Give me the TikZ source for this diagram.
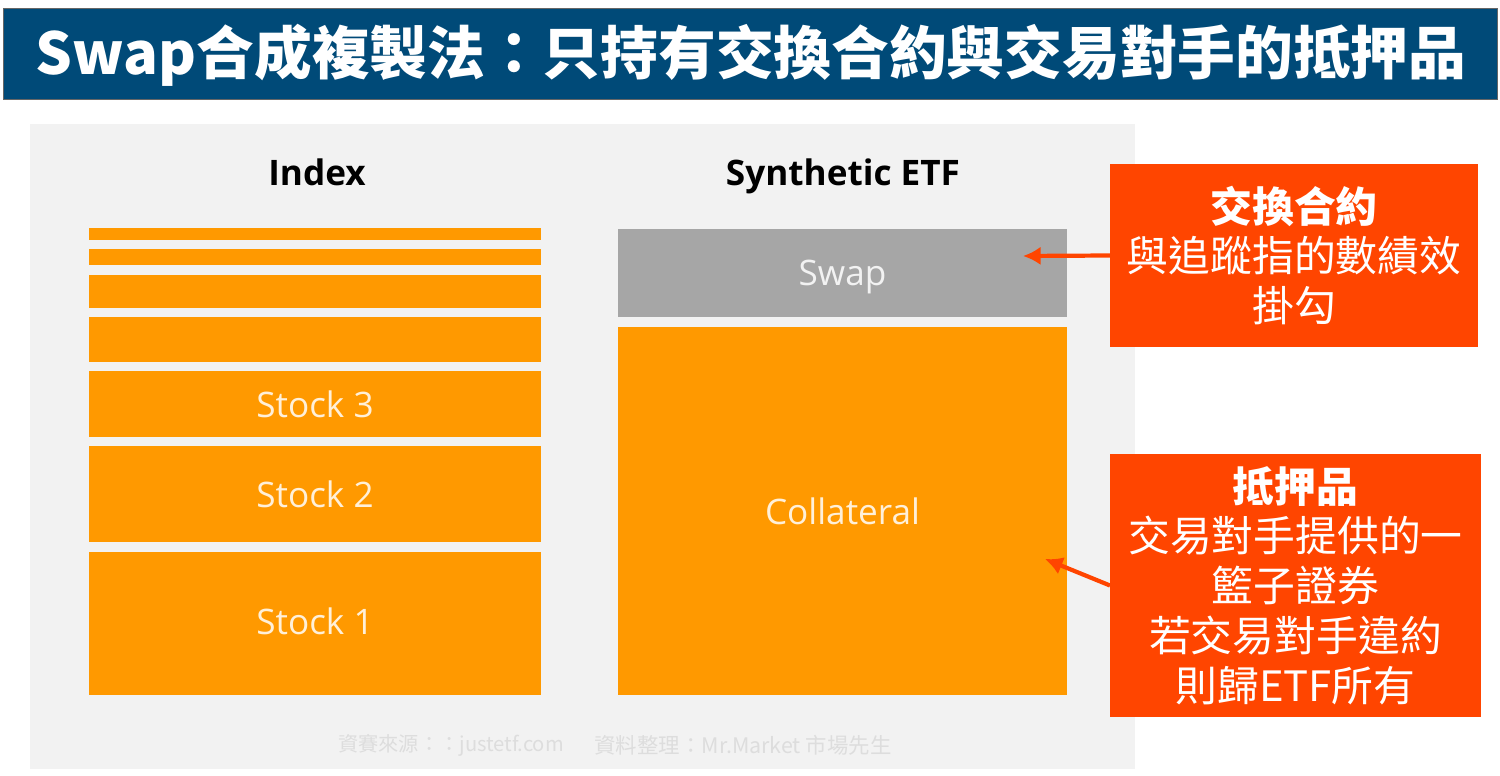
\documentclass[tikz,border=0pt]{standalone}
\usepackage{fontspec}
\setmainfont{Noto Sans CJK TC}
\newfontfamily\latinfont{Open Sans}
\usetikzlibrary{arrows.meta}
\definecolor{titleblue}{HTML}{004A78}
\definecolor{panelgray}{HTML}{F2F2F2}
\definecolor{barorange}{HTML}{FF9900}
\definecolor{swapgray}{HTML}{A6A6A6}
\definecolor{notered}{HTML}{FF4500}
\definecolor{faintgray}{HTML}{DDDDDD}
\def\widecolon{\symbol{"FF1A}}
\def\pxbox[#1](#2)(#3:#4:#5:#6)#7{\node[#1,minimum width={(#5-#3)*0.02cm},minimum height={(#6-#4)*0.02cm}] (#2) at ({(#3+#5)/2},{(#4+#6)/2}) {#7};}
\tikzset{
	plainbox/.style={inner sep=0pt,outer sep=0pt},
	titlebar/.style={plainbox,fill=titleblue,draw=black!60,line width=0.4pt},
	titletext/.style={plainbox,text=white,font=\fontsize{32.85}{38}\selectfont\bfseries},
	panelbox/.style={plainbox,fill=panelgray},
	stockbar/.style={plainbox,fill=barorange,text=white!85!barorange,font=\latinfont\fontsize{20}{24}\selectfont},
	swapbar/.style={plainbox,fill=swapgray,text=white!85!swapgray,text depth=0pt,font=\latinfont\fontsize{20}{24}\selectfont},
	notebox/.style={plainbox,fill=notered,text=white,align=center,font=\fontsize{23.8}{28.3}\selectfont},
	headlabel/.style={plainbox,anchor=base,font=\latinfont\fontsize{20}{24}\selectfont\bfseries},
	sourcelabel/.style={plainbox,text=faintgray,font=\fontsize{11.5}{14}\selectfont},
	notearrow/.style={notered,line width=2.4pt,-{Latex[length=10pt,width=10.5pt]}}
}
\begin{document}
\begin{tikzpicture}[x=0.02cm,y=-0.02cm]
	\useasboundingbox (0,0) rectangle (1500,776);
	%%%%% TITLE %%%%%
	\pxbox[titlebar](title)(3:8:1497:99){}
	\node[titletext] (titlelabel) at (751,55) {Swap合成複製法\widecolon 只持有交換合約與交易對手的抵押品};
	
	\pxbox[panelbox](panel)(30:124:1135:769){}
	\node[headlabel] (indexhead) at (317,186) {Index};
	\node[headlabel] (etfhead) at (843,186) {Synthetic ETF};
	
	%%%%% INDEX %%%%%
	\pxbox[stockbar](bar1)(89:228:541:240){}
	\pxbox[stockbar](bar2)(89:249:541:265){}
	\pxbox[stockbar](bar3)(89:275:541:308){}
	\pxbox[stockbar](bar4)(89:317:541:362){}
	\pxbox[stockbar](stock3)(89:371:541:437){Stock 3}
	\pxbox[stockbar](stock2)(89:446:541:542){Stock 2}
	\pxbox[stockbar,text depth=2.3pt](stock1)(89:552:541:695){Stock 1}
	
	%%%%% ETF %%%%%
	\pxbox[swapbar](swap)(618:229:1067:317){Swap}
	\pxbox[stockbar](collateral)(618:327:1067:695){Collateral}
	
	%%%%% NOTES %%%%%
	\pxbox[notebox](swapnote)(1110:164:1478:347){\textbf{交換合約}\\與追蹤指的數績效\\掛勾}
	\pxbox[notebox](collnote)(1110:454:1481:717){\textbf{抵押品}\\交易對手提供的一\\籃子證券\\若交易對手違約\\則歸ETF所有}
	
	\coordinate (swaptip) at (1023,256);
	\coordinate (colltip) at (1045,559);
	\draw[notearrow] (swapnote.west) -- (swaptip);
	\draw[notearrow] (collnote.west) -- (colltip);
	
	\node[sourcelabel] (source) at (451,745) {資賽來源\widecolon\widecolon justetf.com};
	\node[sourcelabel,font=\fontsize{12.2}{14}\selectfont] (editor) at (743,745) {資料整理\widecolon Mr.Market 市場先生};
\end{tikzpicture}
\end{document}
